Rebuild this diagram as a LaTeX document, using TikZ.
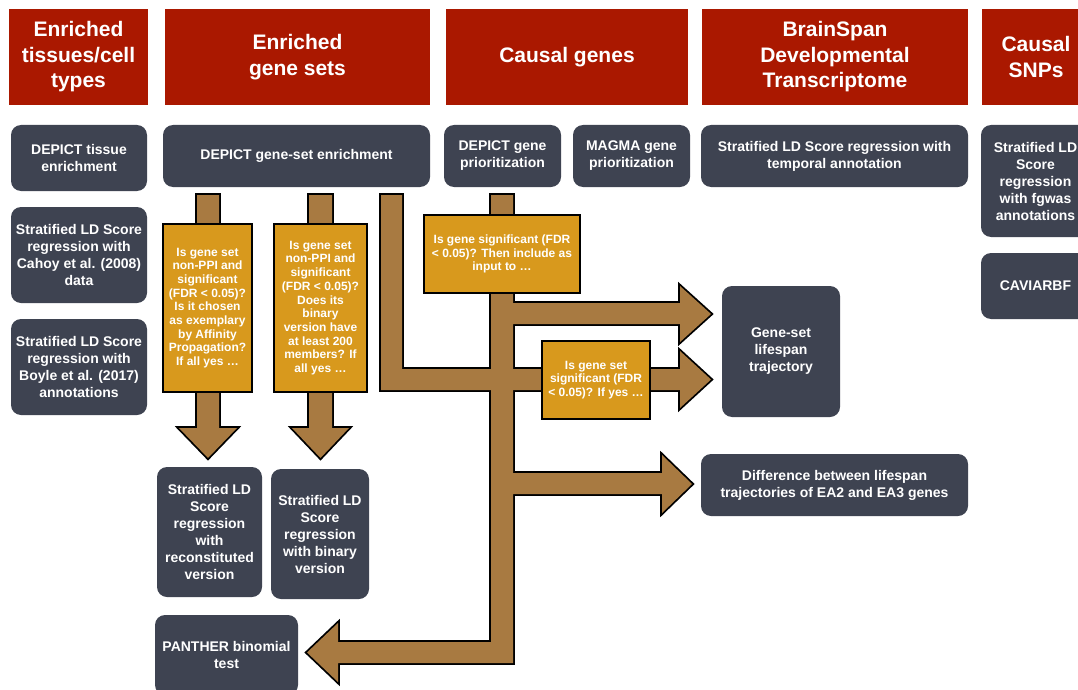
\documentclass[tikz,border=0pt]{standalone}
\usepackage{fontspec}
\setmainfont{Liberation Sans}
\definecolor{headred}{RGB}{170,24,0}
\definecolor{boxgrey}{RGB}{62,67,81}
\definecolor{askgold}{RGB}{216,153,29}
\definecolor{flowbrown}{RGB}{168,122,65}

% the block arrows, drawn once as outline and once as fill
\newcommand{\flowshapes}[1]{%
  \path[#1] (197,195) -- (219,195) -- (219,428) -- (237,428) -- (208,458)
        -- (179,428) -- (197,428) -- cycle;
  \path[#1] (309,195) -- (332,195) -- (332,428) -- (349,428) -- (320.5,458)
        -- (292,428) -- (309,428) -- cycle;
  \path[#1] (381,195) -- (402,195) -- (402,369) -- (680,369) -- (680,351)
        -- (711,379.5) -- (680,408) -- (680,390) -- (381,390) -- cycle;
  \path[#1] (491,195) -- (513,195) -- (513,303) -- (680,303) -- (680,286)
        -- (711,314) -- (680,342) -- (680,324) -- (513,324) -- (513,473)
        -- (662,473) -- (662,455) -- (692,484) -- (662,513) -- (662,494)
        -- (513,494) -- (513,663) -- (338,663) -- (338,682) -- (307,652.5)
        -- (338,623) -- (338,642) -- (491,642) -- cycle;
}

\begin{document}
\begin{tikzpicture}[x=1pt,y=-1pt,
    head/.style={fill=headred, text=white, inner sep=0pt, align=center,
      minimum height=96pt, font=\bfseries\fontsize{21}{25.5}\selectfont},
    task/.style={fill=boxgrey, text=white, rounded corners=10pt, inner sep=0pt,
      align=center, font=\bfseries\fontsize{14}{17}\selectfont},
    ask/.style={fill=askgold, draw=black, line width=1.5pt, text=white,
      inner sep=0pt, align=center, font=\bfseries\fontsize{12}{13.7}\selectfont}]
  \useasboundingbox (0,0) rectangle (1078,690);
  \clip (0,0) rectangle (1078,690);

  % column headings
  \node[head, minimum width=139pt] (hTissue) at (78.5,57) {Enriched\\tissues/cell\\types};
  \node[head, minimum width=265pt] (hSets) at (297.5,57) {Enriched\\gene sets};
  \node[head, minimum width=242pt] (hGenes) at (567,57) {Causal genes};
  \node[head, minimum width=266pt] (hBrain) at (835,57) {BrainSpan\\Developmental\\Transcriptome};
  \node[head, minimum width=108pt] (hSnps) at (1036,57) {Causal\\SNPs};

  % first row of analyses
  \node[task, minimum width=136pt, minimum height=66pt] (tissue) at (79,158) {DEPICT tissue\\enrichment};
  \node[task, minimum width=267pt, minimum height=62pt] (gsEnrich) at (296.5,156) {DEPICT gene-set enrichment};
  \node[task, minimum width=117pt, minimum height=62pt] (depPrio) at (502.5,156) {DEPICT gene\\prioritization};
  \node[task, minimum width=117pt, minimum height=62pt] (magma) at (631.5,156) {MAGMA gene\\prioritization};
  \node[task, minimum width=267pt, minimum height=62pt] (temporal) at (834.5,156) {Stratified LD Score regression with\\temporal annotation};
  \node[task, minimum width=109pt, minimum height=112pt] (fgwas) at (1035.5,181) {Stratified LD\\Score\\regression\\with fgwas\\annotations};

  % further analyses
  \node[task, minimum width=136pt, minimum height=96pt] (cahoy) at (79,255) {Stratified LD Score\\regression with\\Cahoy et al. (2008)\\data};
  \node[task, minimum width=136pt, minimum height=96pt] (boyle) at (79,367) {Stratified LD Score\\regression with\\Boyle et al. (2017)\\annotations};
  \node[task, minimum width=109pt, minimum height=66pt] (caviar) at (1035.5,286) {CAVIARBF};
  \node[task, minimum width=118pt, minimum height=131pt] (lifespan) at (781,351.5) {Gene-set\\lifespan\\trajectory};
  \node[task, minimum width=267pt, minimum height=62pt] (diffEA) at (834.5,485) {Difference between lifespan\\trajectories of EA2 and EA3 genes};
  \node[task, minimum width=105pt, minimum height=130pt] (recon) at (209.5,532) {Stratified LD\\Score\\regression\\with\\reconstituted\\version};
  \node[task, minimum width=98pt, minimum height=130pt] (binary) at (320,534) {Stratified LD\\Score\\regression\\with binary\\version};
  \node[task, minimum width=143pt, minimum height=80pt] (panther) at (226.5,655) {PANTHER binomial\\test};

  % block arrows
  \flowshapes{draw=black, line width=3.6pt, line join=miter}
  \flowshapes{fill=flowbrown}

  % questions on the arrows
  \node[ask, minimum width=89pt, minimum height=168pt] (askRecon) at (207.5,308) {Is gene set\\non-PPI and\\significant\\(FDR < 0.05)?\\Is it chosen\\as exemplary\\by Affinity\\Propagation?\\If all yes …};
  \node[ask, minimum width=93pt, minimum height=168pt] (askBinary) at (320.5,308) {Is gene set\\non-PPI and\\significant\\(FDR < 0.05)?\\Does its\\binary\\version have\\at least 200\\members? If\\all yes …};
  \node[ask, minimum width=156pt, minimum height=78pt] (askGene) at (502,254) {Is gene significant (FDR\\< 0.05)? Then include as\\input to …};
  \node[ask, minimum width=108pt, minimum height=78pt] (askSet) at (596,380) {Is gene set\\significant (FDR\\< 0.05)? If yes …};
\end{tikzpicture}
\end{document}
